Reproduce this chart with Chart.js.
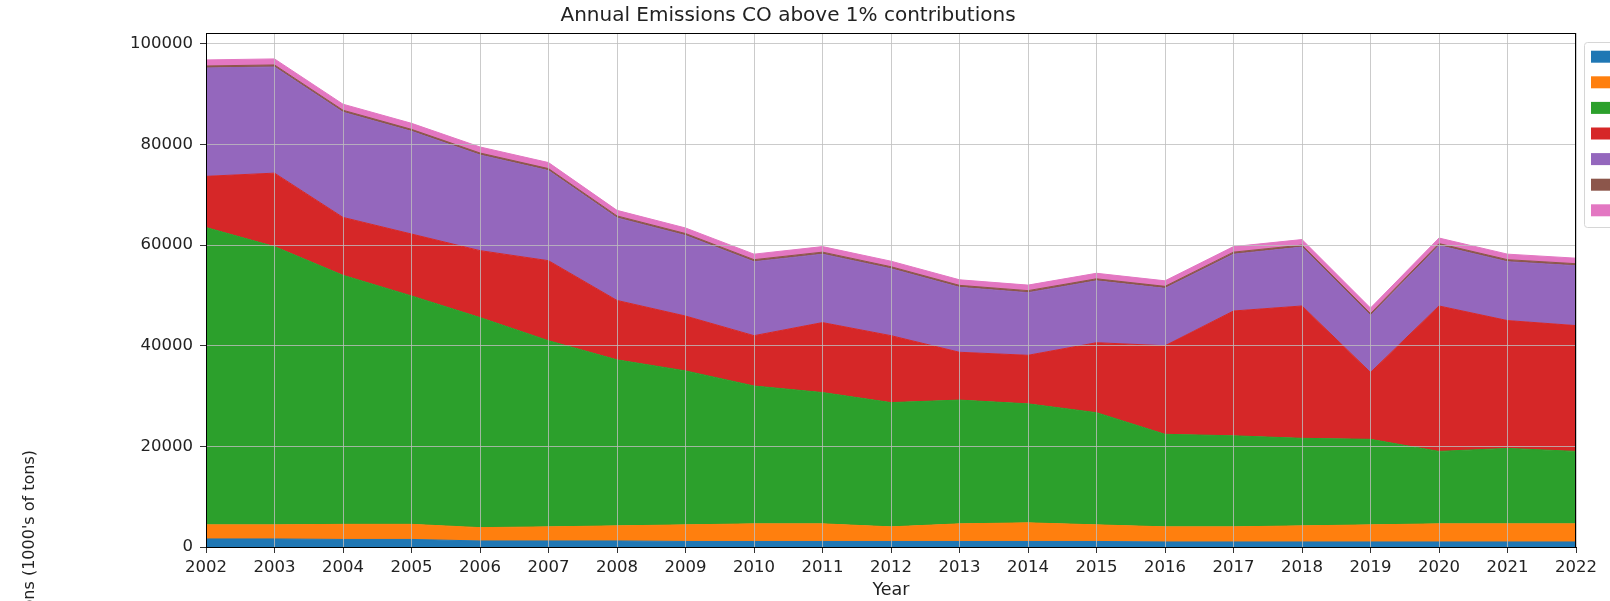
<!DOCTYPE html>
<html>
<head>
<meta charset="utf-8">
<script src="https://cdn.jsdelivr.net/npm/chart.js@4/dist/chart.umd.min.js"></script>
<style>
  html, body { margin: 0; padding: 0; background: #fff; }
  #wrap { width: 1610px; height: 601px; }
</style>
</head>
<body>
<div id="wrap"><canvas id="myChart" width="1610" height="601"></canvas></div>
<script>
// years on the x axis
const years = ['2002', '2003', '2004', '2005', '2006', '2007', '2008', '2009', '2010', '2011', '2012',
               '2013', '2014', '2015', '2016', '2017', '2018', '2019', '2020', '2021', '2022'];

// emissions per source, 1000's of tons
const fuelCombIndustrial = [1600, 1600, 1500, 1500, 1200, 1200, 1200, 1100, 1100, 1100, 1100,
                            1100, 1100, 1100, 1000, 1000, 1000, 1000, 1000, 1000, 1000];
const fuelCombOther = [2800, 2800, 3000, 3000, 2650, 2800, 3000, 3300, 3500, 3500, 2900,
                       3500, 3700, 3300, 3000, 3000, 3200, 3400, 3600, 3600, 3600];
const highwayVehicles = [59100, 55300, 49500, 45400, 41750, 37000, 33000, 30600, 27400, 26100, 24700,
                         24600, 23650, 22300, 18400, 18100, 17400, 17000, 14400, 15000, 14400];
const miscellaneous = [10160, 14600, 11500, 12300, 13300, 15900, 11800, 10900, 10000, 13900, 13300,
                       9500, 9650, 13900, 17600, 24800, 26300, 13300, 28900, 25400, 25000];
const offHighway = [21540, 21100, 20900, 20400, 19000, 17900, 16400, 16000, 14700, 13600, 13300,
                    12900, 12450, 12300, 11400, 11300, 11700, 11300, 12000, 11700, 11900];
const metalsProcessing = [400, 400, 400, 400, 400, 400, 400, 400, 400, 400, 400,
                          400, 400, 400, 400, 400, 400, 400, 400, 400, 400];
const otherIndustrial = [1200, 1200, 1200, 1200, 1200, 1200, 1100, 1100, 1100, 1100, 1100,
                         1100, 1100, 1100, 1100, 1100, 1100, 1100, 1100, 1100, 1100];

const yTicks = [0, 20000, 40000, 60000, 80000, 100000];

const series = [
  { label: 'FUEL COMB. INDUSTRIAL', data: fuelCombIndustrial, color: '#1f77b4' },
  { label: 'FUEL COMB. OTHER', data: fuelCombOther, color: '#ff7f0e' },
  { label: 'HIGHWAY VEHICLES', data: highwayVehicles, color: '#2ca02c' },
  { label: 'MISCELLANEOUS', data: miscellaneous, color: '#d62728' },
  { label: 'OFF-HIGHWAY', data: offHighway, color: '#9467bd' },
  { label: 'METALS PROCESSING', data: metalsProcessing, color: '#8c564b' },
  { label: 'OTHER INDUSTRIAL PROCESSES', data: otherIndustrial, color: '#e377c2' }
];

const FONT = 'DejaVu Sans';
const GRID = 'rgba(190,190,190,0.8)';

// frame on all four sides, like the matplotlib spines
const framePlugin = {
  id: 'frame',
  afterDraw(chart) {
    const { ctx, chartArea: a } = chart;
    ctx.save();
    ctx.strokeStyle = '#000';
    ctx.lineWidth = 1;
    ctx.strokeRect(a.left + 0.5, a.top + 0.5, a.right - a.left - 1, a.bottom - a.top);
    ctx.restore();
  }
};

// shared y label sits far left and low
const yLabelPlugin = {
  id: 'yLabel',
  afterDraw(chart) {
    const ctx = chart.ctx;
    ctx.save();
    ctx.translate(30, 450);
    ctx.rotate(-Math.PI / 2);
    ctx.font = '16px "' + FONT + '"';
    ctx.fillStyle = '#222';
    ctx.textAlign = 'right';
    ctx.textBaseline = 'middle';
    ctx.fillText("Emissions (1000's of tons)", 0, 0);
    ctx.restore();
  }
};

// legend box placed outside the axes on the right
const sideLegendPlugin = {
  id: 'sideLegend',
  afterDraw(chart) {
    const ctx = chart.ctx;
    const x0 = 1584.5, y0 = 42.5, h = 185;
    ctx.save();
    ctx.fillStyle = '#fff';
    ctx.strokeStyle = '#d6d6d6';
    ctx.lineWidth = 1;
    ctx.beginPath();
    ctx.roundRect(x0, y0, 260, h, 3);
    ctx.fill();
    ctx.stroke();
    chart.data.datasets.forEach((ds, i) => {
      const cy = 56.7 + i * 25.6;
      ctx.fillStyle = ds.backgroundColor;
      ctx.fillRect(1591, cy - 6, 28, 12);
      ctx.fillStyle = '#222';
      ctx.font = '16px "' + FONT + '"';
      ctx.textBaseline = 'middle';
      ctx.fillText(ds.label, 1630, cy);
    });
    ctx.restore();
  }
};

window.onload = function () {
  const ctx = document.getElementById('myChart').getContext('2d');
  const chart = new Chart(ctx, {
    type: 'line',
    data: {
      labels: years,
      datasets: series.map((s, i) => ({
        label: s.label,
        data: s.data,
        backgroundColor: s.color,
        borderColor: s.color,
        borderWidth: 1,
        pointRadius: 0,
        tension: 0,
        fill: i === 0 ? 'origin' : '-1'
      }))
    },
    options: {
      responsive: false,
      animation: false,
      layout: { padding: { left: 0, right: 34, top: 0, bottom: 0 } },
      plugins: {
        legend: { display: false },
        tooltip: { enabled: false },
        title: {
          display: true,
          text: 'Annual Emissions CO above 1% contributions',
          color: '#222',
          font: { family: FONT, size: 20, weight: 'normal' },
          padding: { top: 4, bottom: 5 }
        }
      },
      scales: {
        x: {
          offset: false,
          grid: { z: 1, color: GRID, tickColor: '#333', tickLength: 6 },
          border: { display: true, color: '#000', z: 2 },
          ticks: {
            autoSkip: false, maxRotation: 0, padding: 5, color: '#222',
            font: { family: FONT, size: 16.5 }
          },
          title: {
            display: true, text: 'Year', color: '#222',
            font: { family: FONT, size: 17.5 }, padding: { top: 0, bottom: 0 }
          },
          afterFit: s => { s.height = 54; }
        },
        y: {
          stacked: true,
          min: 0,
          max: 102150,
          grid: { z: 1, color: GRID, tickColor: '#333', tickLength: 6 },
          border: { display: true, color: '#000', z: 2 },
          ticks: {
            padding: 7, color: '#222', font: { family: FONT, size: 16.5 },
            callback: v => String(v)
          },
          afterBuildTicks: s => { s.ticks = yTicks.map(v => ({ value: v })); },
          afterFit: s => { s.width = 206; }
        }
      }
    },
    plugins: [framePlugin, yLabelPlugin, sideLegendPlugin]
  });
}
</script>
</body>
</html>
